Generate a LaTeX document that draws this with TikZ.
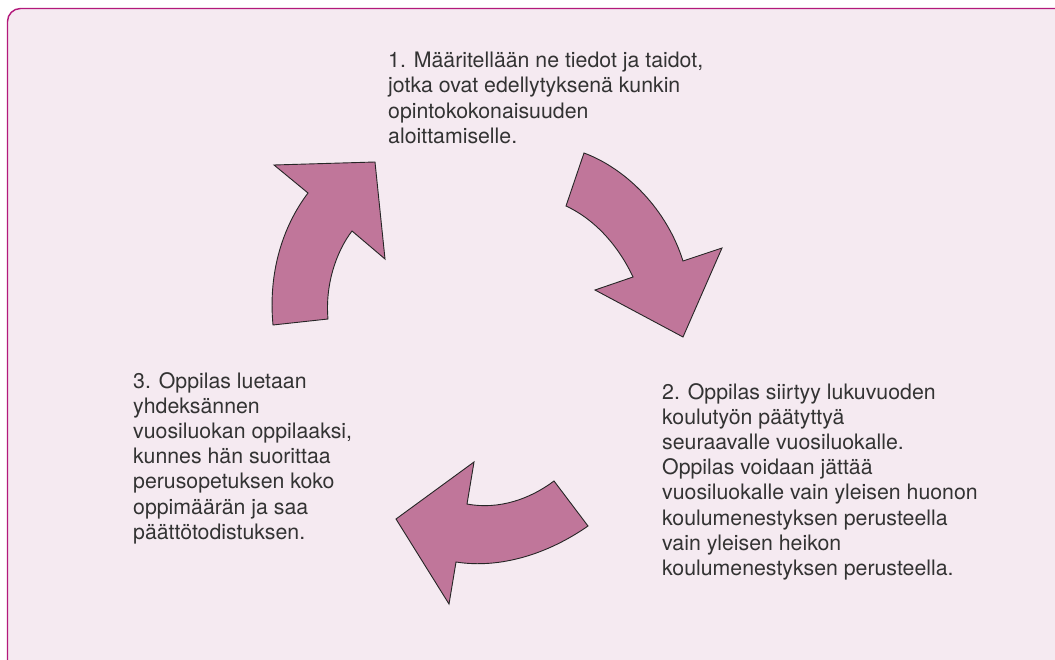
\documentclass[tikz,border=0pt]{standalone}
\usepackage{fontspec}
\setmainfont{TeX Gyre Heros}
\usetikzlibrary{positioning}
\definecolor{framepink}{HTML}{B3197B}
\definecolor{panelpink}{HTML}{F5EAF1}
\definecolor{arrowpink}{HTML}{C0769A}
\definecolor{textgrey}{HTML}{333333}

\begin{document}
\begin{tikzpicture}[x=1pt, y=-1pt,
    stagetext/.style={anchor=north west, inner sep=0pt, align=left, text=textgrey,
      font=\fontsize{21.3}{25.2}\selectfont},
    cyclearrow/.style={fill=arrowpink, draw=black!85, line width=0.9pt, line join=miter}]
  \useasboundingbox (0,0) rectangle (1055,660);
  \clip (0,0) rectangle (1055,660);
  \draw[framepink, fill=panelpink, line width=1.4pt, rounded corners=13pt] (7.5,8.5) rectangle (1075,680);

  % the three stages
  \node[stagetext] (S1) at (388,52) {1. Määritellään ne tiedot ja taidot,\\jotka ovat edellytyksenä kunkin\\opintokokonaisuuden\\aloittamiselle.};
  \node[stagetext] (S2) at (662,383) {2. Oppilas siirtyy lukuvuoden\\koulutyön päätyttyä\\seuraavalle vuosiluokalle.\\Oppilas voidaan jättää\\vuosiluokalle vain yleisen huonon\\koulumenestyksen perusteella\\vain yleisen heikon\\koulumenestyksen perusteella.};
  \node[stagetext] (S3) at (133,372) {3. Oppilas luetaan\\yhdeksännen\\vuosiluokan oppilaaksi,\\kunnes hän suorittaa\\perusopetuksen koko\\oppimäärän ja saa\\päättötodistuksen.};

  % curved arrows between stages
  \draw[cyclearrow] (273,325) .. controls (268,272) and (283,226) .. (308,193) -- (274,165) -- (375,162)
    -- (385,259) -- (352,231) .. controls (336,252) and (325,285) .. (328,319) -- cycle;
  \draw[cyclearrow] (584,153) .. controls (627,169) and (667,210) .. (683,261) -- (722,248) -- (683,337)
    -- (595,290) -- (633,277) .. controls (619,247) and (596,220) .. (566,206) -- cycle;
  \draw[cyclearrow] (588,526) .. controls (548,554) and (500,569) .. (456,562) -- (449,604) -- (396,519)
    -- (474,462) -- (467,504) .. controls (499,510) and (530,499) .. (554,481) -- cycle;
\end{tikzpicture}
\end{document}
